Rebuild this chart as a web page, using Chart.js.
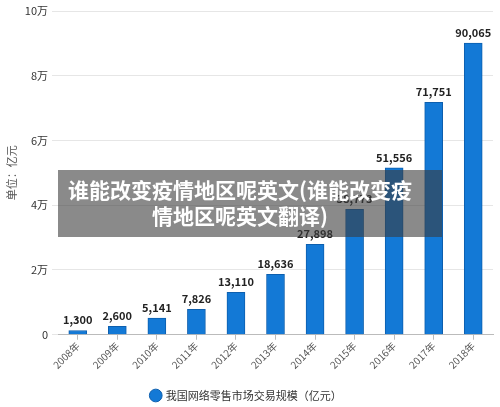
<!DOCTYPE html>
<html>
<head>
<meta charset="utf-8">
<script src="https://cdn.jsdelivr.net/npm/chart.js@4"></script>
<style>
  html, body { margin: 0; padding: 0; background: #fff; }
  #wrap { position: relative; width: 500px; height: 407px; }
  #overlay {
    position: absolute; left: 58px; top: 170px; width: 384px; height: 67px;
    background: rgba(60, 60, 60, 0.6);
    color: #fff; font-family: "Noto Sans CJK SC", sans-serif; font-weight: bold;
    font-size: 21px; line-height: 26px; text-align: center;
    box-sizing: border-box; padding-top: 6px; padding-right: 20px;
  }
</style>
</head>
<body>
<div id="wrap">
  <canvas id="chart" width="500" height="407"></canvas>
  <div id="overlay">谁能改变疫情地区呢英文(谁能改变疫<br>情地区呢英文翻译)</div>
</div>
<script>
const years = ['2008年', '2009年', '2010年', '2011年', '2012年', '2013年', '2014年', '2015年', '2016年', '2017年', '2018年'];
const values = [1300, 2600, 5141, 7826, 13110, 18636, 27898, 38773, 51556, 71751, 90065];
const seriesName = '我国网络零售市场交易规模（亿元）';
const yTitle = '单位：亿元';

const font = '"Noto Sans CJK SC", sans-serif';

// labels above each bar
const valueLabels = {
  id: 'valueLabels',
  afterDatasetsDraw(chart) {
    const ctx = chart.ctx;
    const meta = chart.getDatasetMeta(0);
    ctx.save();
    ctx.font = 'bold 11px ' + font;
    ctx.fillStyle = '#222';
    ctx.textAlign = 'center';
    ctx.textBaseline = 'bottom';
    meta.data.forEach((bar, i) => {
      ctx.fillText(values[i].toLocaleString('en-US'), bar.x, bar.y - 5);
    });
    ctx.restore();
  }
};

const ctx = document.getElementById('chart');

new Chart(ctx, {
  type: 'bar',
  data: {
    labels: years,
    datasets: [{
      label: seriesName,
      data: values,
      backgroundColor: '#1379d6',
      borderColor: '#0d5fae',
      borderWidth: 1,
      barThickness: 18
    }]
  },
  options: {
    responsive: false,
    animation: false,
    layout: { padding: { top: 11, right: 7, left: 0, bottom: -4 } },
    plugins: {
      legend: {
        position: 'bottom',
        labels: {
          usePointStyle: true,
          pointStyle: 'circle',
          boxWidth: 9,
          boxHeight: 9,
          color: '#333',
          font: { family: font, size: 11 },
          padding: 6
        }
      },
      tooltip: { enabled: false }
    },
    scales: {
      x: {
        afterFit(scale) { scale.height += 13; },
        grid: { display: true, drawOnChartArea: false, drawTicks: true, tickLength: 5, offset: false, color: '#bbb' },
        border: { color: '#bbb' },
        ticks: {
          color: '#555',
          font: { family: font, size: 10 },
          minRotation: 45,
          maxRotation: 45,
          padding: 0
        }
      },
      y: {
        min: 0,
        max: 100000,
        afterFit(scale) { scale.width = 58; },
        grid: { color: '#e6e6e6', tickLength: 6 },
        border: { display: false },
        title: {
          display: true,
          text: yTitle,
          color: '#555',
          font: { family: font, size: 11 },
          padding: { top: 5, bottom: 0 }
        },
        ticks: {
          stepSize: 20000,
          color: '#333',
          font: { family: font, size: 11 },
          padding: 4,
          callback: v => v === 0 ? '0' : (v / 10000) + '万'
        }
      }
    }
  },
  plugins: [valueLabels]
});
</script>
</body>
</html>
